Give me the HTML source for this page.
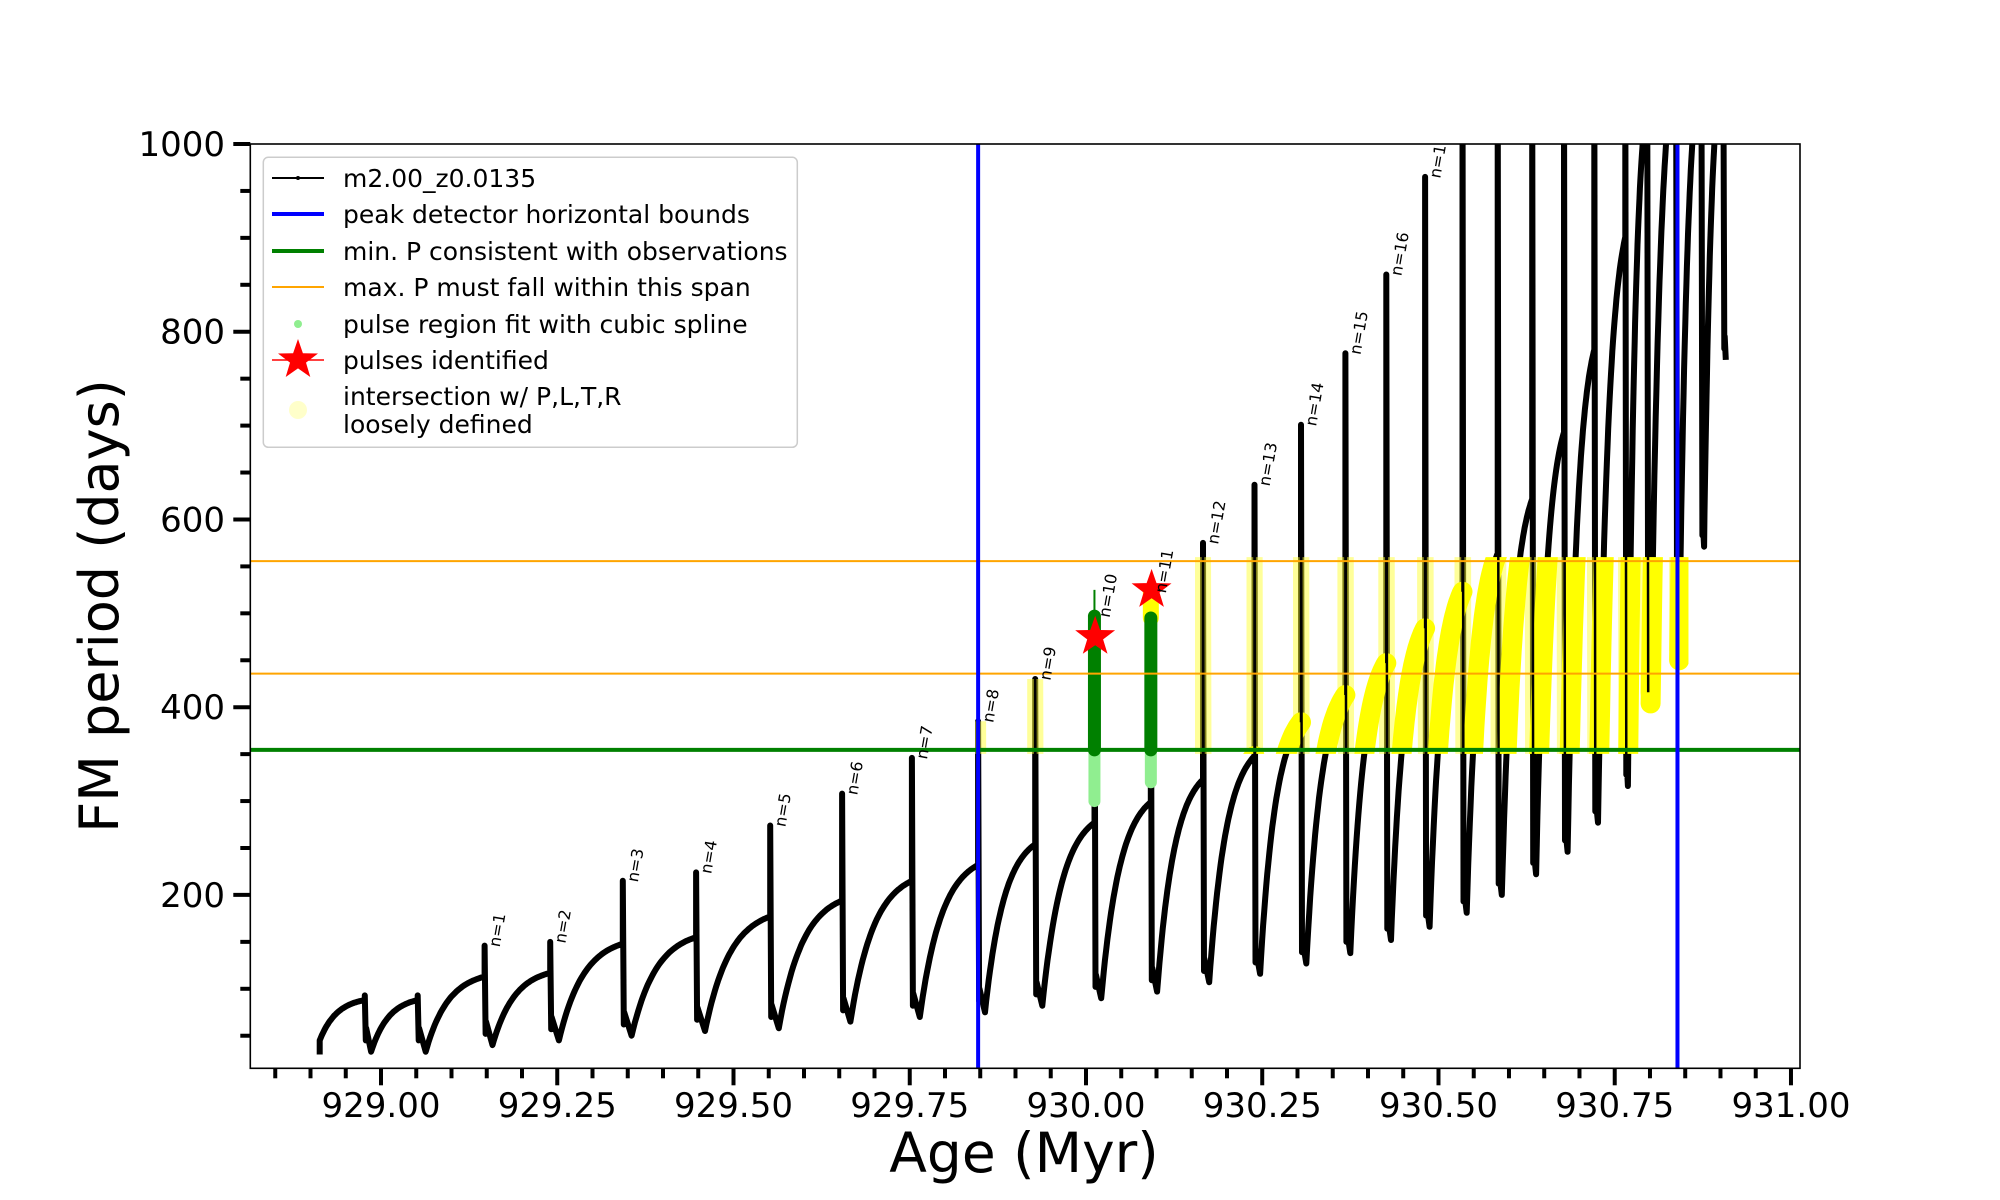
<!DOCTYPE html>
<html><head><meta charset="utf-8">
<style>
html,body{margin:0;padding:0;background:#fff;}
svg{display:block;font-family:"DejaVu Sans","Liberation Sans",sans-serif;}
</style></head>
<body>
<svg id="chart" width="2000" height="1200" viewBox="0 0 2000 1200" xmlns="http://www.w3.org/2000/svg">
<defs>
<clipPath id="plotClip"><rect x="250.3" y="144" width="1549.7" height="924.3"/></clipPath>
<clipPath id="bandClip"><rect id="bandRect" x="0" y="0" width="10" height="10"/></clipPath>
</defs>
<rect x="0" y="0" width="2000" height="1200" fill="#fff"/>
<g id="marks" clip-path="url(#plotClip)"></g>
<rect x="250.3" y="144" width="1549.7" height="924.3" fill="none" stroke="#000" stroke-width="1.6"/>
<g id="axes"></g>
<text x="1024" y="1172" font-size="55" text-anchor="middle">Age (Myr)</text>
<text x="0" y="0" font-size="54" text-anchor="middle" transform="translate(118,606) rotate(-90)">FM period (days)</text>
<g id="legend">
<rect x="263.3" y="157.3" width="534" height="290" rx="5" fill="#fff" fill-opacity="0.8" stroke="#ccc" stroke-width="1.5"/>
<g><line x1="272" y1="178" x2="324" y2="178" stroke="#000" stroke-width="2"/><circle cx="298" cy="178" r="2" fill="#000"/><text x="343" y="187" font-size="25">m2.00_z0.0135</text></g>
<g><line x1="272" y1="214" x2="324" y2="214" stroke="#0000ff" stroke-width="4"/><text x="343" y="223" font-size="25">peak detector horizontal bounds</text></g>
<g><line x1="272" y1="251" x2="324" y2="251" stroke="#008000" stroke-width="4"/><text x="343" y="260" font-size="25">min. P consistent with observations</text></g>
<g><line x1="272" y1="287" x2="324" y2="287" stroke="#ffa500" stroke-width="2"/><text x="343" y="296" font-size="25">max. P must fall within this span</text></g>
<g><circle cx="298" cy="324" r="4" fill="#90ee90"/><text x="343" y="333" font-size="25">pulse region fit with cubic spline</text></g>
<g><line x1="272" y1="360" x2="324" y2="360" stroke="#ff0000" stroke-width="1.5"/><polygon id="legStar" fill="#ff0000" points=""/><text x="343" y="369" font-size="25">pulses identified</text></g>
<g><circle cx="298" cy="410" r="9" fill="#ffff66" fill-opacity="0.35"/><text x="343" y="405" font-size="25">intersection w/ P,L,T,R</text><text x="343" y="433" font-size="25">loosely defined</text></g>
</g>
</svg>
<script>
// ---- data ----
const startAge = 928.913;
const startVal = 45;
const startLow = 30;
const pulseAge = [928.977, 929.052, 929.147, 929.240, 929.343, 929.447, 929.552, 929.654, 929.753, 929.847, 929.928, 930.012, 930.092, 930.166, 930.239, 930.305, 930.368, 930.426, 930.481, 930.534, 930.584, 930.633, 930.678, 930.721, 930.765, 930.796, 930.837, 930.873, 930.904];
const prePeak  = [88, 88, 113, 117, 148, 155, 177, 194, 215, 232, 254, 277, 299, 323, 348, 384, 413, 447, 484, 523, 564, 622, 693, 781, 901, 1050, 1100, 1100, 1100];
const spikeTop = [93, 93, 146, 150, 215, 224, 274, 308, 346, 385, 430, 497, 523, 575, 637, 701, 777, 861, 965, 1100, 1100, 1100, 1100, 1100, 1100, 1100, 1100, 1100, 1100];
const postMin  = [33, 33, 40, 45, 50, 55, 58, 65, 70, 75, 82, 90, 97, 107, 116, 127, 138, 152, 166, 181, 200, 222, 246, 277, 316, 404, 450, 571, 770];
const pulseLabels = ["", "", "n=1", "n=2", "n=3", "n=4", "n=5", "n=6", "n=7", "n=8", "n=9", "n=10", "n=11", "n=12", "n=13", "n=14", "n=15", "n=16", "n=17"];
const minP = 354.5;
const maxPLow = 435.7;
const maxPHigh = 555.6;
const boundLeft = 929.847;
const boundRight = 930.839;
const greenPulseIdx = [11, 12];
const greenTop = [497, 495];
const greenLightLow = [300, 320];
const starAge = [930.013, 930.093];
const starVal = [475, 525];
const xTickMajor = [929.00, 929.25, 929.50, 929.75, 930.00, 930.25, 930.50, 930.75, 931.00];
const xTickLabels = ["929.00", "929.25", "929.50", "929.75", "930.00", "930.25", "930.50", "930.75", "931.00"];
const yTickMajor = [200, 400, 600, 800, 1000];
const yTickLabels = ["200", "400", "600", "800", "1000"];

// ---- scales ----
const X0 = 250.3, X1 = 1800, Y0 = 1068.3, Y1 = 144;
const xmin = 928.8146, xmax = 931.0128, ymin = 15.3, ymax = 1000;
function X(v){ return X0 + (v - xmin) / (xmax - xmin) * (X1 - X0); }
function Y(v){ return Y0 - (v - ymin) / (ymax - ymin) * (Y0 - Y1); }
const NS = "http://www.w3.org/2000/svg";
function mk(tag, attrs, parent){ const e = document.createElementNS(NS, tag); for (const k in attrs) e.setAttribute(k, attrs[k]); parent.appendChild(e); return e; }
const marks = document.getElementById('marks');
const axes = document.getElementById('axes');

// ---- build curve ----
let rise = [];
let spikes = [];
let full = [[X(startAge), Y(startLow)], [X(startAge), Y(startVal)]];
function riseSeg(t0, v0, t1, v1){
  const pts = [];
  const k = 2.6, N = 40;
  for (let j = 0; j <= N; j++){
    const u = j / N;
    const f = (1 - Math.exp(-k*u)) / (1 - Math.exp(-k));
    pts.push([X(t0 + (t1 - t0)*u), Y(v0 + (v1 - v0)*f)]);
  }
  return pts;
}
let prevT = startAge, prevV = startVal;
for (let i = 0; i < pulseAge.length; i++){
  const seg = riseSeg(prevT, prevV, pulseAge[i], prePeak[i]);
  rise.push(seg);
  full = full.concat(seg);
  const t = pulseAge[i];
  const gap = (i + 1 < pulseAge.length) ? pulseAge[i+1] - t : 0.03;
  const sp = [[X(t), Y(prePeak[i])], [X(t), Y(spikeTop[i])], [X(t) + 1, Y(postMin[i] + 12)], [X(t + 0.002), Y(postMin[i] + 25)], [X(t + 0.12*gap), Y(postMin[i])]];
  spikes.push(sp);
  full = full.concat(sp);
  prevT = t + 0.12*gap; prevV = postMin[i];
}
function ptsStr(p){ return p.map(q => q[0].toFixed(1) + "," + q[1].toFixed(1)).join(" "); }

const curve = mk('polyline', {points: ptsStr(full), fill: 'none', stroke: '#000', 'stroke-width': 6, 'stroke-linejoin': 'round'}, marks);



const br = document.getElementById('bandRect');
br.setAttribute('x', X(boundLeft) - 3);
br.setAttribute('width', X(boundRight) - X(boundLeft) + 14);
br.setAttribute('y', Y(maxPHigh) - 4);
br.setAttribute('height', Y(minP) - Y(maxPHigh) + 8);
const yg = mk('g', {'clip-path': 'url(#bandClip)'}, marks);


for (let i = 0; i < spikes.length; i++){
  if (greenPulseIdx.indexOf(i) >= 0) continue;
  const s = mk('polyline', {points: ptsStr(spikes[i].slice(0, 3)), fill: 'none', stroke: '#ffff33', 'stroke-opacity': 0.5, 'stroke-width': 16, 'stroke-linecap': 'round'}, yg);
  
  
}
for (let i = 0; i < rise.length; i++){
  const r = mk('polyline', {points: ptsStr(rise[i]), fill: 'none', stroke: '#ffff00', 'stroke-width': 20, 'stroke-linecap': 'round', 'stroke-linejoin': 'round'}, yg);
  
  
}
for (let i = 0; i < spikes.length; i++){
  const l = mk('polyline', {points: ptsStr(spikes[i].slice(0, 3)), fill: 'none', stroke: '#000', 'stroke-width': 2.5}, marks);
  
  
}

for (let g = 0; g < greenPulseIdx.length; g++){
  const i = greenPulseIdx[g];
  const x = X(pulseAge[i]);
  const lg = mk('line', {x1: x, x2: x, y1: Y(greenLightLow[g]), y2: Y(minP), stroke: '#90ee90', 'stroke-width': 12, 'stroke-linecap': 'round'}, marks);
  
  
  if (g === 1){
    const yy = mk('line', {x1: x, x2: x, y1: Y(spikeTop[i]), y2: Y(greenTop[g]), stroke: '#ffff00', 'stroke-width': 16, 'stroke-linecap': 'round'}, marks);
    
    
  } else {
    const tl = mk('line', {x1: x, x2: x, y1: Y(spikeTop[i] + 28), y2: Y(greenTop[g]), stroke: '#008000', 'stroke-width': 2}, marks);
    
    
  }
  const dg = mk('line', {x1: x, x2: x, y1: Y(minP), y2: Y(greenTop[g]), stroke: '#008000', 'stroke-width': 13, 'stroke-linecap': 'round'}, marks);
  
  
}

function hline(v, color, w, name){
  const l = mk('line', {x1: X0, x2: X1, y1: Y(v), y2: Y(v), stroke: color, 'stroke-width': w}, marks);
  
  
}
function vline(v, name){
  const l = mk('line', {x1: X(v), x2: X(v), y1: Y1, y2: Y0, stroke: '#0000ff', 'stroke-width': 4}, marks);
  
  
}
hline(maxPHigh, '#ffa500', 2, 'max-p-upper-line');
hline(maxPLow, '#ffa500', 2, 'max-p-lower-line');
hline(minP, '#008000', 4, 'min-p-line');
vline(boundLeft, 'peak-bound-left');
vline(boundRight, 'peak-bound-right');

function starPts(cx, cy, R){
  const r = R * 0.4, p = [];
  for (let k = 0; k < 10; k++){
    const a = -Math.PI/2 + k*Math.PI/5, rr = k % 2 ? r : R;
    p.push((cx + rr*Math.cos(a)).toFixed(1) + "," + (cy + rr*Math.sin(a)).toFixed(1));
  }
  return p.join(" ");
}
for (let s = 0; s < starAge.length; s++){
  const st = mk('polygon', {points: starPts(X(starAge[s]), Y(starVal[s]), 21), fill: '#ff0000'}, marks);
  
  
}
document.getElementById('legStar').setAttribute('points', starPts(298, 360, 21));

for (let i = 0; i < pulseLabels.length; i++){
  if (!pulseLabels[i]) continue;
  const x = X(pulseAge[i]) + 15, y = Y(spikeTop[i]) + 2;
  const t = mk('text', {x: 0, y: 0, 'font-size': 16, transform: 'translate(' + x.toFixed(1) + ',' + y.toFixed(1) + ') rotate(-80)'}, marks);
  t.textContent = pulseLabels[i];
  
  
}

for (let k = 0; k <= 43; k++){
  const v = 928.85 + k*0.05;
  if (v > xmax) break;
  const major = Math.abs((v - 929) / 0.25 - Math.round((v - 929) / 0.25)) < 1e-6;
  const t = mk('line', {x1: X(v), x2: X(v), y1: Y0, y2: Y0 + (major ? 17 : 10), stroke: '#000', 'stroke-width': 4}, axes);
  
  
}
for (let i = 0; i < xTickMajor.length; i++){
  const t = mk('text', {x: X(xTickMajor[i]), y: 1117, 'font-size': 34, 'text-anchor': 'middle'}, axes);
  t.textContent = xTickLabels[i];
  
  
}
for (let v = 50; v <= 1000; v += 50){
  const major = v % 200 === 0;
  const t = mk('line', {x1: X0, x2: X0 - (major ? 17 : 10), y1: Y(v), y2: Y(v), stroke: '#000', 'stroke-width': 4}, axes);
  
  
}
for (let i = 0; i < yTickMajor.length; i++){
  const t = mk('text', {x: 225, y: Y(yTickMajor[i]) + 12, 'font-size': 34, 'text-anchor': 'end'}, axes);
  t.textContent = yTickLabels[i];
  
  
}
</script>
</body></html>
